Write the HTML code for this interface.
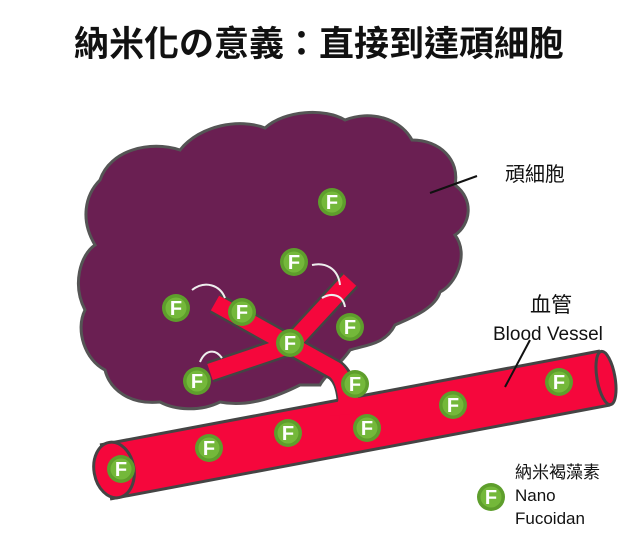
<!DOCTYPE html><html><head><meta charset="utf-8"><style>body{margin:0;background:#fff}svg{display:block}</style></head><body>
<svg width="639" height="546" viewBox="0 0 639 546" xmlns="http://www.w3.org/2000/svg" font-family="Liberation Sans, Noto Sans CJK TC, sans-serif">
<defs><g id="f"><circle r="14" fill="#5e9e2c"/><circle r="10.5" fill="#74b83a"/><text y="7" text-anchor="middle" font-size="20" font-weight="bold" fill="#fff">F</text></g></defs>
<text x="319" y="56" text-anchor="middle" font-size="35" font-weight="bold" fill="#111">納米化の意義：直接到達頑細胞</text>
<path d="M100,180 C110,150 150,140 180,150 C200,125 240,118 265,128 C285,110 325,108 345,120 C370,110 400,118 412,140 C440,140 460,160 455,185 C475,200 470,225 455,235 C470,255 455,285 440,292 C435,310 405,320 395,325 C385,345 365,345 350,350 C340,365 325,375 320,385 L300,385 C280,395 250,408 220,402 C200,412 175,410 160,402 C130,405 110,390 105,370 C85,360 75,330 85,310 C72,285 80,255 95,245 C80,220 85,195 100,180 Z" fill="#6a1f52" stroke="#555" stroke-width="3"/>
<g fill="none" stroke-linecap="butt" stroke-linejoin="round">
<path d="M215,303 L290,345 L350,280 M290,345 L210,372 M290,345 L335,370 Q348,380 348,410" stroke="#444" stroke-width="22"/>
<path d="M105,472 L605,378" stroke="#444" stroke-width="58"/>
<path d="M105,472 L605,378" stroke="#f5073c" stroke-width="52"/>
<path d="M215,303 L290,345 L350,280 M290,345 L210,372 M290,345 L335,370 Q348,380 348,420" stroke="#f5073c" stroke-width="17"/>
</g>
<path d="M330,416 Q340,405 339,390 L357,390 Q357,405 370,412 Z" fill="#f5073c"/>
<ellipse cx="606" cy="378" rx="9" ry="27" fill="#f5073c" stroke="#444" stroke-width="3" transform="rotate(-10 606 378)"/>
<ellipse cx="114" cy="470" rx="20" ry="28" fill="#f5073c" stroke="#444" stroke-width="3" transform="rotate(-10 114 470)"/>
<g fill="none" stroke="#eee" stroke-width="2"><path d="M192,290 C205,280 220,285 225,298"/><path d="M312,265 C325,262 338,268 340,285"/><path d="M322,298 C332,292 343,295 345,307"/><path d="M222,358 C215,348 205,350 200,362"/></g>
<use href="#f" x="332" y="202"/><use href="#f" x="294" y="262"/><use href="#f" x="176" y="308"/><use href="#f" x="242" y="312"/><use href="#f" x="350" y="327"/><use href="#f" x="290" y="343"/><use href="#f" x="197" y="381"/><use href="#f" x="355" y="384"/><use href="#f" x="453" y="405"/><use href="#f" x="559" y="382"/><use href="#f" x="367" y="428"/><use href="#f" x="288" y="433"/><use href="#f" x="209" y="448"/><use href="#f" x="121" y="469"/><use href="#f" x="491" y="497"/>
<line x1="430" y1="193" x2="477" y2="176" stroke="#111" stroke-width="2"/>
<line x1="505" y1="387" x2="530" y2="340" stroke="#111" stroke-width="2"/>
<text x="505" y="181" font-size="20" fill="#111">頑細胞</text>
<text x="530" y="312" font-size="21" fill="#111">血管</text>
<text x="493" y="340" font-size="19" fill="#111">Blood Vessel</text>
<text x="515" y="478" font-size="17" fill="#111">納米褐藻素</text>
<text x="515" y="501" font-size="17" fill="#111">Nano</text>
<text x="515" y="524" font-size="17" fill="#111">Fucoidan</text>
</svg></body></html>
